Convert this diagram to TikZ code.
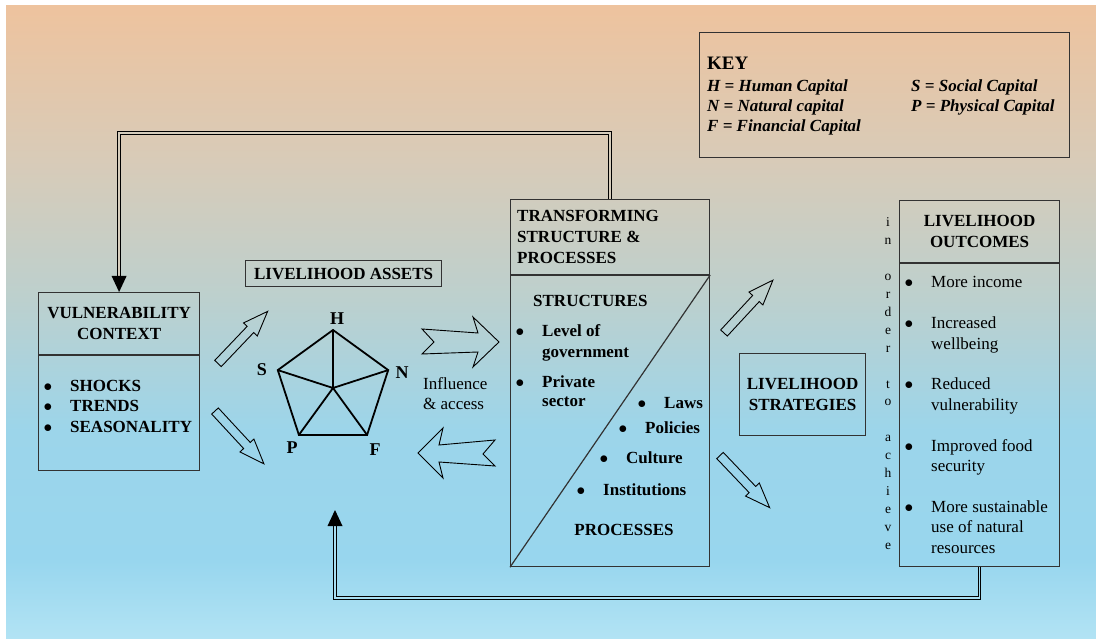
\documentclass[tikz,border=0pt]{standalone}
\usepackage{fontspec}
\setmainfont{Liberation Serif}
\usetikzlibrary{calc}

% background fade, peach at the top to sky blue at the bottom
\definecolor{bgtop}{RGB}{238,195,158}
\definecolor{bgtan}{RGB}{216,203,184}
\definecolor{bggrey}{RGB}{188,208,206}
\definecolor{bgblue}{RGB}{156,213,234}
\definecolor{bglow}{RGB}{152,214,238}
\definecolor{bgbot}{RGB}{178,227,244}
\definecolor{boxgray}{RGB}{50,50,50}
\definecolor{dblhi}{RGB}{214,205,188}
\definecolor{dbllo}{RGB}{168,222,242}

\pgfdeclareverticalshading{skyfade}{100bp}{%
  color(0bp)=(bgbot); color(25bp)=(bgbot); color(31.2bp)=(bglow);
  color(41.5bp)=(bgblue); color(51.8bp)=(bggrey); color(62.8bp)=(bgtan);
  color(75bp)=(bgtop); color(100bp)=(bgtop)}

% bullet hanging to the left of the item text
\newcommand\bl{\makebox[0pt][r]{$\bullet$\hspace{18pt}}}

\tikzset{
  body/.style={font=\fontsize{17}{20.5}\selectfont},
  bold/.style={font=\fontsize{17}{20.5}\selectfont\bfseries},
  bw/.style={inner sep=0pt, anchor=base west},
  bc/.style={inner sep=0pt, anchor=base},
  keytxt/.style={font=\fontsize{17}{20}\selectfont\bfseries\itshape, bw},
  cornerlbl/.style={font=\fontsize{18}{20}\selectfont\bfseries, bc},
  boxline/.style={draw=boxgray, line width=1.2pt},
  boxframe/.style={boxline, inner sep=0pt, anchor=north west},
  pent/.style={line width=1.8pt, line join=miter},
  openarrow/.style={draw=black, line width=0.9pt, line join=miter},
  dbl/.style={draw=black, double distance=1.5pt, line width=1.1pt},
  blockarrow/.pic={
    \draw[openarrow] (0,-4.5) -- (47,-4.5) -- (47,-9.5) -- (72,0)
      -- (47,9.5) -- (47,4.5) -- (0,4.5) -- cycle;
  }
}

\begin{document}
\begin{tikzpicture}[x=1pt, y=-1pt]
\useasboundingbox (0,0) rectangle (1096,639);
\shade[shading=skyfade] (6,6) rectangle (1096,639);

% ---- key ----
\node[boxframe, minimum width=370, minimum height=125] (key) at (699,32) {};
\node[font=\fontsize{19}{22}\selectfont\bfseries, bw] (keyttl) at (707,70) {KEY};
\node[keytxt] (kh) at (707,92) {H = Human Capital};
\node[keytxt] (kn) at (707,112) {N = Natural capital};
\node[keytxt] (kf) at (707,132) {F = Financial Capital};
\node[keytxt] (ks) at (911,92) {S = Social Capital};
\node[keytxt] (kp) at (911,112) {P = Physical Capital};

% ---- vulnerability context ----
\node[boxframe, minimum width=161, minimum height=178] (vuln) at (38,292) {};
\draw[boxline] ($(vuln.north west)+(0,63)$) -- ($(vuln.north east)+(0,63)$);
\node[bold, align=center] (vulnhead) at ($(vuln.north)+(0,31.5)$) {VULNERABILITY\\CONTEXT};
\node[bold, bw] (vulnlist) at (70,391)
  {\begin{tabular}[t]{@{}l@{}}\bl SHOCKS\\ \bl TRENDS\\ \bl SEASONALITY\end{tabular}};

% ---- livelihood assets ----
\node[boxframe, minimum width=196, minimum height=26] (assets) at (245,260) {};
\node[bold] (assetslbl) at (assets.center) {LIVELIHOOD ASSETS};

\coordinate (pc) at (333,388);
\coordinate (vH) at (333,330);
\coordinate (vN) at (388.2,370.1);
\coordinate (vF) at (367.1,434.9);
\coordinate (vP) at (298.9,434.9);
\coordinate (vS) at (277.8,370.1);
\draw[pent] (vH) -- (vN) -- (vF) -- (vP) -- (vS) -- cycle;
\draw[pent] (pc) -- (vH) (pc) -- (vN) (pc) -- (vF) (pc) -- (vP) (pc) -- (vS);
\node[cornerlbl] (lblH) at (337,324) {H};
\node[cornerlbl] (lblS) at (262,375) {S};
\node[cornerlbl] (lblN) at (402,378) {N};
\node[cornerlbl] (lblP) at (292,453) {P};
\node[cornerlbl] (lblF) at (375,455) {F};

% arrows between vulnerability context and assets
\pic[rotate=46.4] (va1) at (218,363.5) {blockarrow};
\pic[rotate=-47.2] (va2) at (215,411) {blockarrow};

% influence and access
\draw[openarrow] (422,329) -- (478,333) -- (473,317) -- (499,342) -- (473,367)
  -- (478,352) -- (422,354) -- (434,342) -- cycle;
\draw[openarrow] (418,453) -- (443,428) -- (439,445) -- (495,440) -- (483,454)
  -- (495,466) -- (439,462) -- (443,478) -- cycle;
\node[body, bw] (infl) at (423,389)
  {\fontsize{17}{20}\selectfont\begin{tabular}[t]{@{}l@{}}Influence\\ \& access\end{tabular}};

% ---- transforming structures & processes ----
\node[boxframe, minimum width=199, minimum height=367] (trans) at (510,199) {};
\draw[boxline] ($(trans.north west)+(0,76)$) -- ($(trans.north east)+(0,76)$);
\draw[boxline] (trans.south west) -- ($(trans.north east)+(0,76)$);
\node[bold, bw] (transhead) at (517,222)
  {\fontsize{17}{21}\selectfont\begin{tabular}[t]{@{}l@{}}TRANSFORMING\\ STRUCTURE \&\\ PROCESSES\end{tabular}};
\node[bold, bw] (structs) at (533,307) {STRUCTURES};
\node[bold, bw] (lev) at (542,337)
  {\fontsize{17}{21}\selectfont\begin{tabular}[t]{@{}l@{}}\bl Level of\\ government\end{tabular}};
\node[bold, bw] (priv) at (542,387)
  {\fontsize{17}{19.5}\selectfont\begin{tabular}[t]{@{}l@{}}\bl Private\\ sector\end{tabular}};
\node[bold, bw] (laws) at (664,408) {\bl Laws};
\node[bold, bw] (pols) at (645,433) {\bl Policies};
\node[bold, bw] (cult) at (626,463) {\bl Culture};
\node[bold, bw] (insts) at (603,495) {\bl Institutions};
\node[bold, bc] (procs) at (624,535) {PROCESSES};

% arrows towards strategies
\pic[rotate=47.2] (sa1) at (724,333) {blockarrow};
\pic[rotate=-46.4] (sa2) at (720,455.5) {blockarrow};

% ---- livelihood strategies ----
\node[boxframe, minimum width=126, minimum height=82] (strat) at (739,353) {};
\node[bold, align=center] (strattxt) at (strat.center) {LIVELIHOOD\\STRATEGIES};

% ---- in order to achieve ----
\node[font=\fontsize{13.5}{17.9}\selectfont, bc] (inorder) at (888,227)
  {\begin{tabular}[t]{@{}c@{}}i\\n\\ \\o\\r\\d\\e\\r\\ \\t\\o\\ \\a\\c\\h\\i\\e\\v\\e\end{tabular}};

% ---- livelihood outcomes ----
\node[boxframe, minimum width=160, minimum height=366] (out) at (899,200) {};
\draw[boxline] ($(out.north west)+(0,63)$) -- ($(out.north east)+(0,63)$);
\node[bold, align=center] (outhead) at ($(out.north)+(0,31.5)$) {LIVELIHOOD\\OUTCOMES};
\node[body, bw] (outlist) at (931,288)
  {\fontsize{17}{20.4}\selectfont\begin{tabular}[t]{@{}l@{}}\bl More income\\ \\
   \bl Increased\\ wellbeing\\ \\
   \bl Reduced\\ vulnerability\\ \\
   \bl Improved food\\ security\\ \\
   \bl More sustainable\\ use of natural\\ resources\end{tabular}};

% ---- feedback loops ----
\draw[dbl, double=dblhi, shorten >=16pt] (trans.north) -- ++(0,-66) -| (vuln.north);
\fill (vuln.north) -- ++(-7.5,-16) -- ++(15,0) -- cycle;

\coordinate (assetsin) at (335,510);
\draw[dbl, double=dbllo, shorten >=16pt] (out.south) -- ++(0,31) -| (assetsin);
\fill (assetsin) -- ++(-7.5,16) -- ++(15,0) -- cycle;
\end{tikzpicture}
\end{document}
